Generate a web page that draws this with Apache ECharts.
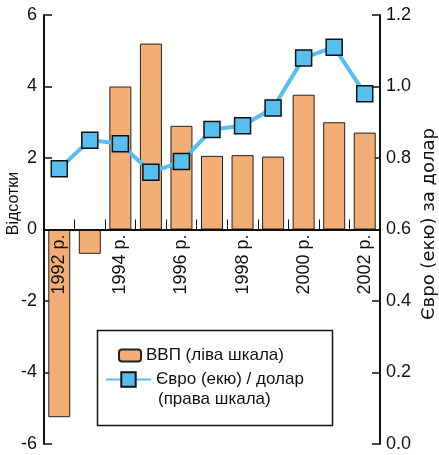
<!DOCTYPE html>
<html>
<head>
<meta charset="utf-8">
<script src="https://cdn.jsdelivr.net/npm/echarts@6/dist/echarts.min.js"></script>
<style>
  html, body { margin: 0; padding: 0; background: #fff; }
  #chart { width: 439px; height: 455px; }
</style>
</head>
<body>
<div id="chart"></div>
<script>
// Роки (категорії)
const years = ['1992', '1993', '1994', '1995', '1996', '1997', '1998', '1999', '2000', '2001', '2002'];
// Роки, що підписані на осі
const labelledYears = ['1992', '1994', '1996', '1998', '2000', '2002'];
const yearSuffix = ' р.';

// ВВП, % (ліва шкала)
const gdp = [-5.25, -0.68, 4.0, 5.2, 2.9, 2.06, 2.08, 2.04, 3.77, 3.0, 2.71];

// Курс євро (екю) за долар (права шкала)
const euroUsd = [0.77, 0.85, 0.84, 0.76, 0.79, 0.88, 0.89, 0.94, 1.08, 1.11, 0.98];

// Поділки шкал
const leftTicks = { min: -6, max: 6, interval: 2 };
const rightTicks = { min: 0, max: 1.2, interval: 0.2 };

const gdpName = 'ВВП (ліва шкала)';
const euroName = 'Євро (екю) / долар';
const euroNameLine2 = '(права шкала)';

const FONT = "'Liberation Sans', Arial, Helvetica, sans-serif";
const INK = '#111';
const chart = echarts.init(document.getElementById('chart'));

chart.setOption({
  animation: false,
  textStyle: { fontFamily: FONT, color: INK },
  grid: { left: 44, right: 59, top: 15, bottom: 11, containLabel: false, outerBoundsMode: 'none' },
  xAxis: {
    type: 'category',
    data: years,
    z: 5,
    axisLine: { onZero: true, onZeroAxisIndex: 0, lineStyle: { color: INK, width: 2 } },
    axisTick: { show: true, inside: true, length: 10, interval: 0, lineStyle: { color: INK, width: 1 } },
    axisLabel: { show: false },
    splitLine: { show: false }
  },
  yAxis: [
    {
      type: 'value',
      position: 'left',
      min: leftTicks.min, max: leftTicks.max, interval: leftTicks.interval,
      name: 'Відсотки',
      nameLocation: 'middle',
      nameRotate: 90,
      nameGap: 22,
      nameMoveOverlap: false,
      nameTextStyle: { fontSize: 16, color: INK, fontFamily: FONT, padding: [0, 0, 0, 52] },
      axisLine: { show: true, onZero: false, lineStyle: { color: INK, width: 2 } },
      axisTick: { show: true, inside: true, length: 8, lineStyle: { color: INK, width: 1.5 } },
      axisLabel: { fontSize: 18, color: INK, margin: 7, fontFamily: FONT },
      splitLine: { show: false }
    },
    {
      type: 'value',
      position: 'right',
      min: rightTicks.min, max: rightTicks.max, interval: rightTicks.interval,
      name: 'Євро (екю) за долар',
      nameLocation: 'middle',
      nameRotate: 90,
      nameGap: 40,
      nameMoveOverlap: false,
      nameTextStyle: { fontSize: 18, color: INK, fontFamily: "'DejaVu Sans', sans-serif", padding: [0, 0, 0, 11] },
      axisLine: { show: true, onZero: false, lineStyle: { color: INK, width: 2 } },
      axisTick: { show: true, inside: true, length: 8, lineStyle: { color: INK, width: 1.5 } },
      axisLabel: { fontSize: 18, color: INK, margin: 6, fontFamily: FONT, formatter: v => v.toFixed(1) },
      splitLine: { show: false }
    }
  ],
  legend: [
    {
      data: [gdpName],
      left: 118, top: 347,
      padding: 0,
      itemWidth: 22, itemHeight: 12,
      textStyle: { fontSize: 17, color: INK, fontFamily: FONT }
    },
    {
      data: [euroName],
      left: 105, top: 371,
      padding: 0,
      itemWidth: 45, itemHeight: 18,
      textStyle: { fontSize: 17, color: INK, fontFamily: FONT }
    }
  ],
  graphic: [
    {
      type: 'rect',
      z: 0,
      shape: { x: 97.5, y: 330.5, width: 235, height: 95 },
      style: { fill: '#fff', stroke: INK, lineWidth: 1.5 }
    },
    {
      type: 'text',
      z: 10,
      left: 158, top: 391,
      style: { text: euroNameLine2, fill: INK, font: "17px 'Liberation Sans', Arial, sans-serif" }
    }
  ],
  series: [
    {
      name: gdpName,
      type: 'bar',
      yAxisIndex: 0,
      data: gdp,
      barWidth: 22,
      itemStyle: { color: '#f2ae74', borderColor: '#222', borderWidth: 1 }
    },
    {
      name: euroName,
      type: 'line',
      yAxisIndex: 1,
      data: euroUsd,
      z: 6,
      symbol: 'rect',
      symbolSize: 16,
      lineStyle: { color: '#57bff0', width: 4 },
      itemStyle: { color: '#57bff0', borderColor: INK, borderWidth: 1.5 }
    },
    {
      // Підписи років, розташовані під нульовою лінією
      name: 'yearLabels',
      type: 'custom',
      yAxisIndex: 0,
      z: 8,
      silent: true,
      clip: false,
      data: labelledYears.map(y => [y, 0]),
      renderItem: function (params, api) {
        const p = api.coord([api.value(0), api.value(1)]);
        return {
          type: 'text',
          x: p[0],
          y: p[1] + 5,
          rotation: Math.PI / 2,
          style: {
            text: labelledYears[params.dataIndex] + yearSuffix,
            fill: INK,
            font: "18px 'Liberation Sans', Arial, sans-serif",
            align: 'right',
            verticalAlign: 'middle'
          }
        };
      }
    }
  ]
});
</script>
</body>
</html>
